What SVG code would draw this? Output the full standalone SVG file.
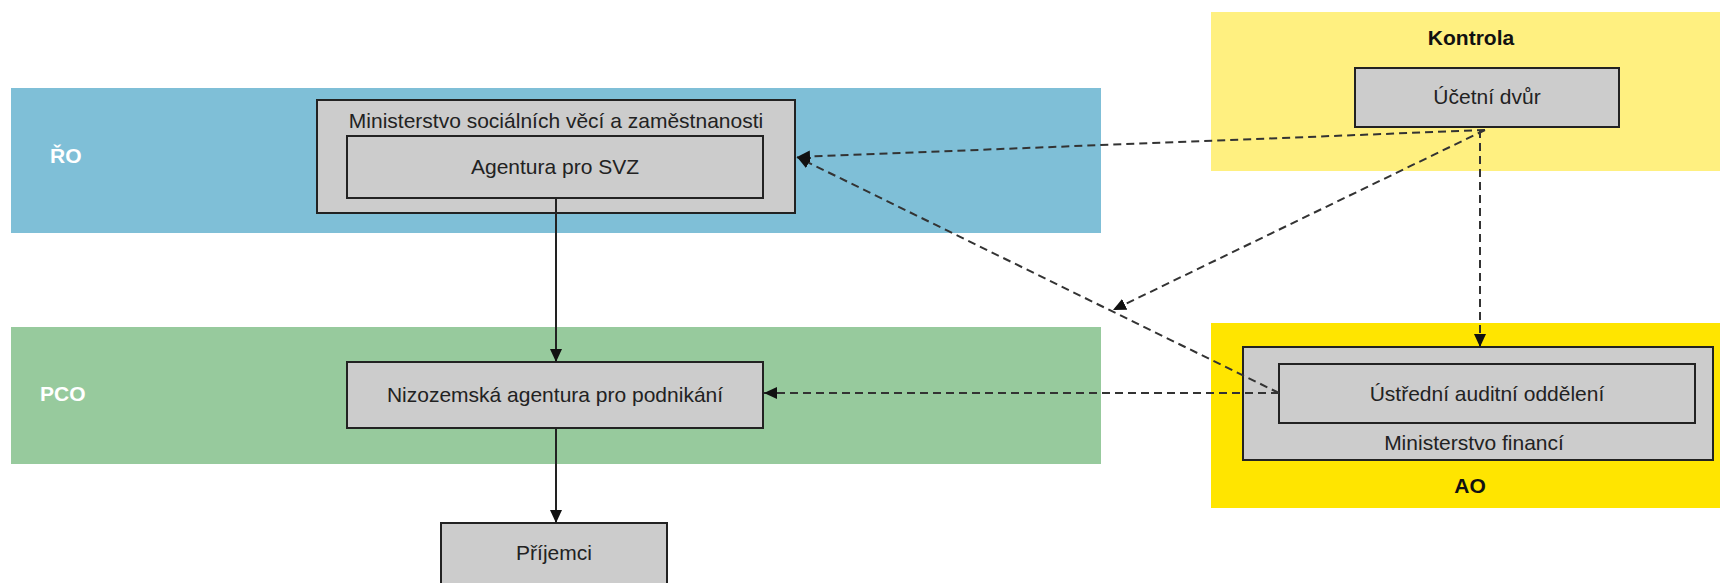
<svg xmlns="http://www.w3.org/2000/svg" width="1720" height="583" viewBox="0 0 1720 583">
  <defs>
    <marker id="arr" markerUnits="userSpaceOnUse" markerWidth="14" markerHeight="12" refX="13" refY="6" orient="auto">
      <path d="M0,0 L13,6 L0,12 z" fill="#111"/>
    </marker>
  </defs>
  <style>
    .band { stroke: none; }
    .bandlbl { font-family: "Liberation Sans", Arial, sans-serif; font-size: 21px; font-weight: bold; fill: #ffffff; }
    .grplbl { font-family: "Liberation Sans", Arial, sans-serif; font-size: 21px; font-weight: bold; fill: #111; text-anchor: middle; }
    .box { fill: #cccccc; stroke: #222; stroke-width: 2; }
    .lbl { font-family: "Liberation Sans", Arial, sans-serif; font-size: 21px; fill: #222; text-anchor: middle; }
    .dash { fill: none; stroke: #333; stroke-width: 2; stroke-dasharray: 8 5; marker-end: url(#arr); }
    .solid { fill: none; stroke: #222; stroke-width: 2; marker-end: url(#arr); }
  </style>
  <rect width="1720" height="583" fill="#ffffff"/>

  <g id="band-ro">
    <rect class="band" x="11" y="88" width="1090" height="145" fill="#7fbfd7"/>
    <text class="bandlbl" x="50" y="163">ŘO</text>
  </g>
  <g id="band-pco">
    <rect class="band" x="11" y="327" width="1090" height="137" fill="#97ca9d"/>
    <text class="bandlbl" x="40" y="401">PCO</text>
  </g>
  <g id="band-kontrola">
    <rect class="band" x="1211" y="12" width="509" height="159" fill="#fff080"/>
    <text class="grplbl" x="1471" y="45">Kontrola</text>
  </g>
  <g id="band-ao">
    <rect class="band" x="1211" y="323" width="509" height="185" fill="#ffe500"/>
    <text class="grplbl" x="1470" y="493">AO</text>
  </g>

  <g id="mpsv">
    <rect class="box" x="317" y="100" width="478" height="113"/>
    <text class="lbl" x="556" y="128">Ministerstvo sociálních věcí a zaměstnanosti</text>
  </g>
  <g id="agentura-svz">
    <rect class="box" x="347" y="136" width="416" height="62"/>
    <text class="lbl" x="555" y="174">Agentura pro SVZ</text>
  </g>
  <g id="nizozemska">
    <rect class="box" x="347" y="362" width="416" height="66"/>
    <text class="lbl" x="555" y="402">Nizozemská agentura pro podnikání</text>
  </g>
  <g id="prijemci">
    <rect class="box" x="441" y="523" width="226" height="72"/>
    <text class="lbl" x="554" y="560">Příjemci</text>
  </g>
  <g id="ucetni-dvur">
    <rect class="box" x="1355" y="68" width="264" height="59"/>
    <text class="lbl" x="1487" y="104">Účetní dvůr</text>
  </g>
  <g id="ministerstvo-financi">
    <rect class="box" x="1243" y="347" width="470" height="113"/>
    <text class="lbl" x="1474" y="450">Ministerstvo financí</text>
  </g>
  <g id="ustredni-auditni">
    <rect class="box" x="1279" y="364" width="416" height="59"/>
    <text class="lbl" x="1487" y="401">Ústřední auditní oddělení</text>
  </g>

  <g id="connectors">
    <line class="solid" x1="556" y1="198" x2="556" y2="362"/>
    <line class="solid" x1="556" y1="428" x2="556" y2="523"/>
    <line class="dash" x1="1485" y1="130" x2="797" y2="157"/>
    <line class="dash" x1="1485" y1="130" x2="1113" y2="310"/>
    <line class="dash" x1="1480" y1="130" x2="1480" y2="347"/>
    <line class="dash" x1="1279" y1="393" x2="797" y2="157"/>
    <line class="dash" x1="1279" y1="393" x2="764" y2="393"/>
  </g>
</svg>
